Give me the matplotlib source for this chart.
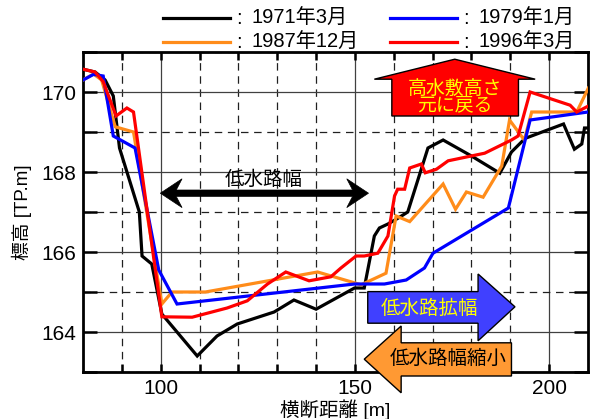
import matplotlib
matplotlib.use("Agg")
import matplotlib.pyplot as plt
from matplotlib.patches import Polygon
from matplotlib.lines import Line2D

plt.rcParams['font.family'] = ['Liberation Sans', 'Noto Sans CJK JP', 'DejaVu Sans']

# ---- data ----
x_1971 = [80, 83.1, 85.7, 87.8, 89.4, 94.5, 95.2, 97.7, 100.3, 109.4, 114.5, 119.7, 129.2, 134.3, 140,
          149.9, 152.4, 155, 156.3, 158.5, 161, 163.6, 168.8, 172.7, 180, 187.3, 190.3, 193.8, 203.7,
          206.5, 208.4, 209.1, 210]
y_1971 = [170.57, 170.5, 170.3, 169.9, 168.6, 167.0, 165.9, 165.7, 164.45, 163.4, 163.9, 164.2, 164.5,
          164.8, 164.57, 165.1, 165.1, 166.4, 166.6, 166.7, 166.84, 167.0, 168.6, 168.8, 168.4, 167.97,
          168.5, 168.84, 169.2, 168.57, 168.7, 169.1, 169.1]

x_1979 = [80, 82.7, 85.2, 87.8, 93.4, 99.5, 104.2, 149.9, 157.6, 163.2, 167.9, 170.1, 189.5, 195.1, 210]
y_1979 = [170.3, 170.44, 170.4, 168.9, 168.6, 165.55, 164.7, 165.2, 165.2, 165.3, 165.6, 165.97, 167.1,
          169.3, 169.5]

x_1987 = [80, 82.7, 84.8, 88.3, 93, 100.3, 102.9, 111.5, 140.4, 151.6, 158, 160.6, 164.1, 172.7, 175.9,
          178.7, 183, 187.8, 189.8, 193.6, 195.5, 207.1, 210.1]
y_1987 = [170.3, 170.45, 170.3, 169.13, 169.0, 164.7, 165.0, 165.0, 165.5, 165.18, 165.47, 166.9, 166.76,
          167.7, 167.07, 167.5, 167.37, 168.15, 169.3, 168.8, 169.5, 169.5, 170.1]

x_1996 = [80, 83.1, 85.2, 88.5, 91.3, 93, 100.3, 108.1, 117.1, 122.3, 127.5, 132.2, 138.2, 143.8, 146.4,
          150.3, 152.4, 155.9, 158.5, 160.2, 161, 162.8, 164.1, 167.1, 168.1, 171, 174, 183.4, 190.3, 192,
          195.1, 205.4, 207.1, 210.5]
y_1996 = [170.57, 170.5, 170.26, 169.4, 169.6, 169.5, 164.38, 164.37, 164.6, 164.78, 165.2, 165.5, 165.28,
          165.38, 165.6, 165.9, 165.9, 165.97, 166.4, 167.4, 167.57, 167.57, 168.1, 168.2, 167.98, 168.07,
          168.28, 168.47, 168.8, 168.9, 170.0, 169.67, 169.5, 169.67]

series = [
    (x_1971, y_1971, '#000000', '1971年3月'),
    (x_1979, y_1979, '#0000FF', '1979年1月'),
    (x_1987, y_1987, '#FF8C1A', '1987年12月'),
    (x_1996, y_1996, '#FF0000', '1996年3月'),
]

x_major = [100, 150, 200]
x_minor = [90, 110, 120, 130, 140, 160, 170, 180, 190]
y_major = [164, 166, 168, 170]
y_minor = [163, 165, 167, 169, 171]

W, H = 592, 419
fig = plt.figure(figsize=(W / 100, H / 100), dpi=100)
L, R, T, B = 83, 588, 52, 372
ax = fig.add_axes([L / W, 1 - B / H, (R - L) / W, (B - T) / H])

for xs, ys, c, lab in [series[0], series[2], series[1], series[3]]:
    ax.plot(xs, ys, color=c, lw=2.3, zorder=3, solid_joinstyle='miter')

ax.set_xlim(80, 210)
ax.set_ylim(163, 171)
ax.set_xticks(x_major)
ax.set_xticks(x_minor, minor=True)
ax.set_yticks(y_major)
ax.set_yticks(y_minor, minor=True)
ax.grid(which='major', color='#404040', lw=0.9, ls='-', zorder=1)
ax.grid(which='minor', color='#202020', lw=0.9, ls=(0, (6, 4.5)), zorder=1)
ax.tick_params(which='both', direction='in', top=True, right=True, width=1.8)
ax.tick_params(axis='x', which='both', length=6, pad=5, labelsize=15)
ax.tick_params(axis='y', which='both', length=10, pad=5, labelsize=15)
for s in ax.spines.values():
    s.set_linewidth(2.0)


def fx(px):
    return px / W


def fy(py):
    return 1 - py / H


fig.text(fx(335), fy(410), '横断距離 [m]', ha='center', va='center', fontsize=14)
fig.text(fx(22), fy(212), '標高 [TP.m]', ha='center', va='center', fontsize=13.5, rotation=90)

# legend (manual)
leg = [((163, 230, 18.3), series[0]), ((390, 457, 18.3), series[1]),
       ((163, 230, 42.3), series[2]), ((390, 457, 42.3), series[3])]
for (x0, x1, yy), (_, _, c, lab) in leg:
    fig.add_artist(Line2D([fx(x0), fx(x1)], [fy(yy), fy(yy)], color=c, lw=2.3,
                          transform=fig.transFigure))
    fig.text(fx(x1 + 9), fy(yy), ':', ha='center', va='center', fontsize=14.5)
    fig.text(fx(x1 + 21), fy(yy), lab, ha='left', va='center', fontsize=14.5)

# double arrow 低水路幅
La, Ra, yc = 99.9, 153.5, 167.47
bd, nd, hh, sh = 5.6, 4.1, 0.36, 0.08
dbl = [(La, yc), (La + bd, yc + hh), (La + nd, yc + sh), (Ra - nd, yc + sh), (Ra - bd, yc + hh),
       (Ra, yc), (Ra - bd, yc - hh), (Ra - nd, yc - sh), (La + nd, yc - sh), (La + bd, yc - hh)]
ax.add_patch(Polygon(dbl, closed=True, facecolor='black', edgecolor='black', lw=0.5, zorder=5))
ax.text(126.6, 167.8, '低水路幅', ha='center', va='center', fontsize=14, zorder=6)

# red up arrow
up = [(175.7, 170.82), (196.4, 170.32), (192.1, 170.32), (192.1, 169.4), (159.5, 169.4),
      (159.5, 170.32), (155.0, 170.32)]
ax.add_patch(Polygon(up, closed=True, facecolor='#FF0000', edgecolor='black', lw=1.0, zorder=5,
                     clip_on=False))
ax.text(175.8, 169.87, '高水敷高さ\n元に戻る', ha='center', va='center', fontsize=13.6,
        color='#FFFF00', linespacing=0.95, zorder=6)

# blue right arrow
rgt = [(153.3, 165.01), (181.7, 165.01), (181.7, 165.45), (191.2, 164.63), (181.7, 163.78),
       (181.7, 164.22), (153.3, 164.22)]
ax.add_patch(Polygon(rgt, closed=True, facecolor='#4040FF', edgecolor='black', lw=1.0, zorder=5,
                     clip_on=False))
ax.text(169.3, 164.58, '低水路拡幅', ha='center', va='center', fontsize=14, color='#FFFF00', zorder=6)

# orange left arrow
lft = [(152.4, 163.32), (161.9, 164.15), (161.9, 163.73), (190.3, 163.73), (190.3, 162.9),
       (161.9, 162.9), (161.9, 162.48)]
ax.add_patch(Polygon(lft, closed=True, facecolor='#FF9933', edgecolor='black', lw=1.0, zorder=5,
                     clip_on=False))
ax.text(174.0, 163.32, '低水路幅縮小', ha='center', va='center', fontsize=14, color='black', zorder=6,
        clip_on=False)

fig.savefig('out.png', dpi=100)
